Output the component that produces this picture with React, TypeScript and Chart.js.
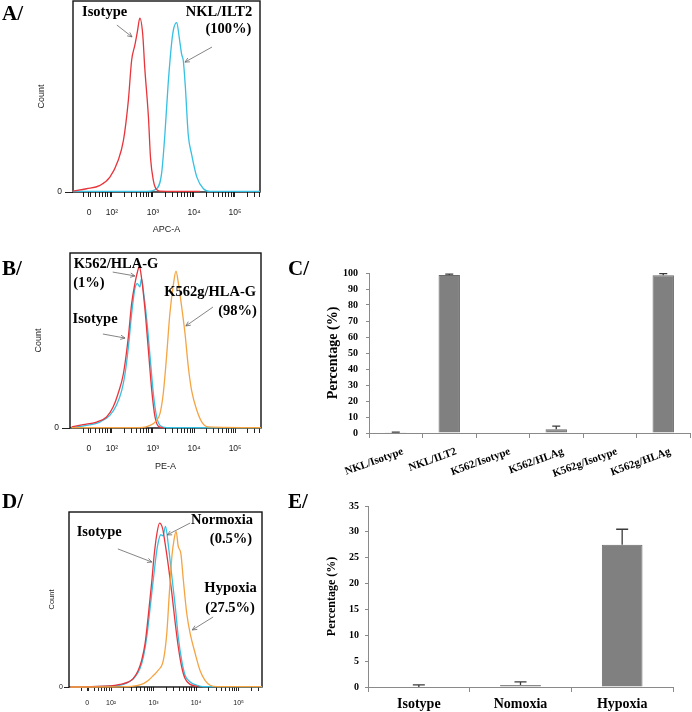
import React, { useEffect, useRef } from 'react';
import { Chart, registerables } from 'chart.js';
Chart.register(...registerables);

const SERIF = '"Times New Roman", "Liberation Serif", serif';
const SANS = 'Arial, "Liberation Sans", sans-serif';
Chart.defaults.font.family = SANS;

// ---------- Histogram axis (decade units, biexponential display) ----------
const histMajorTicks = [1.44, 2, 3, 4, 5];
const histTickLabels = ['0', '10²', '10³', '10⁴', '10⁵'];
const histMinorFactors = [2, 3, 4, 5, 6, 7, 8, 9];
const histDecades = [1, 2, 3, 4, 5];

// ---------- Panel A: NKL ILT2 ----------
const aIsotypeX = [1.04, 1.38, 1.71, 1.95, 2.15, 2.28, 2.40, 2.48, 2.56, 2.62, 2.68, 2.75, 2.80, 2.89, 2.94, 3.01, 3.09, 3.17, 4.15];
const aIsotypeY = [0.5, 1.7, 3.5, 7.8, 16.5, 27, 48, 69, 77, 84, 91, 82.6, 65, 39, 18, 6, 1.2, 0.5, 0.3];
const aIlt2X = [1.04, 2.85, 3.09, 3.21, 3.29, 3.37, 3.46, 3.51, 3.58, 3.64, 3.70, 3.74, 3.79, 3.86, 3.94, 4.07, 4.23, 4.39, 5.61];
const aIlt2Y = [0.3, 0.3, 1.7, 9.6, 30, 56.5, 79, 86, 88.7, 81, 72, 68.7, 55, 30, 20, 7.8, 1.7, 0.3, 0.3];
const aNoteText = ['Isotype', 'NKL/ILT2', '(100%)'];
const aNoteX = [1.82, 4.61, 4.84];
const aNoteY = [94.2, 94.2, 85.3];
const aArrowFrom = [[2.12, 87.4], [4.44, 75.9]];
const aArrowTo = [[2.49, 81.2], [3.78, 68]];

// ---------- Panel B: K562 HLA-G ----------
const bIsotypeX = [1.02, 1.30, 1.63, 1.87, 2.03, 2.15, 2.28, 2.40, 2.48, 2.56, 2.62, 2.67, 2.72, 2.80, 2.89, 2.97, 3.05, 3.13, 3.25];
const bIsotypeY = [0.6, 1.9, 3.4, 6.3, 12, 19.6, 31, 52, 71, 82.5, 89, 92.4, 86, 69, 44, 21.5, 6.3, 1, 0.2];
const bK562X = [1.02, 1.38, 1.71, 1.95, 2.11, 2.24, 2.32, 2.40, 2.48, 2.56, 2.62, 2.68, 2.72, 2.78, 2.85, 2.93, 3.01, 3.09, 3.17, 3.33, 5.63];
const bK562Y = [0.2, 1.5, 3.4, 7.2, 13, 21.5, 31, 46, 65, 79.6, 82.5, 80.6, 85.3, 75.8, 61.5, 40.6, 19.6, 6.3, 1.5, 0.2, 0.2];
const bK562gX = [1.02, 2.68, 2.93, 3.09, 3.17, 3.25, 3.33, 3.41, 3.50, 3.56, 3.62, 3.70, 3.78, 3.86, 3.94, 4.07, 4.19, 4.35, 5.63];
const bK562gY = [0.2, 0.2, 1.5, 4.4, 8.2, 19.6, 40.6, 65, 82.5, 89.7, 82.5, 69, 54, 35, 21.5, 10, 3.4, 0.6, 0.2];
const bNoteText = ['K562/HLA-G', '(1%)', 'Isotype', 'K562g/HLA-G', '(98%)'];
const bNoteX = [2.10, 1.44, 1.59, 4.39, 5.06];
const bNoteY = [93.7, 82.9, 62.3, 77.7, 66.9];
const bArrowFrom = [[2.02, 89.1], [1.78, 53.7], [4.46, 69.1]];
const bArrowTo = [[2.56, 86.9], [2.32, 51.4], [3.80, 58.3]];

// ---------- Panel D: hypoxia ----------
const dIsotypeX = [1.04, 1.98, 2.21, 2.41, 2.52, 2.64, 2.72, 2.80, 2.88, 2.96, 3.01, 3.08, 3.14, 3.21, 3.27, 3.35, 3.43, 3.51, 3.58, 3.66, 3.74, 3.86, 4.02];
const dIsotypeY = [0, 0.6, 1.5, 2.9, 4.8, 9.6, 15.3, 24.9, 42, 61, 74.6, 88, 93.7, 90.8, 82.2, 68.8, 53.5, 36.3, 23, 11.5, 4.8, 1.5, 0.4];
const dNormoxiaX = [1.04, 2.05, 2.29, 2.45, 2.56, 2.68, 2.76, 2.84, 2.93, 3.01, 3.09, 3.17, 3.22, 3.28, 3.35, 3.43, 3.51, 3.58, 3.66, 3.74, 3.86, 4.02, 4.17, 5.55];
const dNormoxiaY = [0, 0.6, 1.5, 3.3, 5.7, 10.5, 17.2, 28.7, 47.8, 65, 80.3, 87, 86.4, 91.8, 80.3, 63, 45.9, 28.7, 15.3, 6.7, 2.9, 1, 0.2, 0.2];
const dHypoxiaX = [1.04, 2.37, 2.60, 2.76, 2.88, 3.00, 3.11, 3.23, 3.31, 3.37, 3.43, 3.48, 3.53, 3.58, 3.64, 3.70, 3.78, 3.86, 3.98, 4.09, 4.21, 4.33, 4.49, 5.55];
const dHypoxiaY = [0, 0.2, 0.8, 1.9, 3.8, 6.7, 9.6, 15.3, 30.6, 53.5, 74.6, 84, 88.9, 80.3, 76.5, 61, 42, 30.6, 19, 9.6, 3.8, 1, 0.2, 0.2];
const dNoteText = ['Isotype', 'Normoxia', '(0.5%)', 'Hypoxia', '(27.5%)'];
const dNoteX = [1.72, 4.61, 4.82, 4.81, 4.80];
const dNoteY = [88.6, 95.4, 84.6, 56.6, 45.1];
const dArrowFrom = [[2.16, 78.9], [3.86, 93.7], [4.40, 40]];
const dArrowTo = [[2.96, 71.4], [3.32, 86.9], [3.91, 32.6]];

// ---------- Panel C: bar chart ----------
const cCategories = ['NKL/Isotype', 'NKL/ILT2', 'K562/Isotype', 'K562/HLAg', 'K562g/Isotype', 'K562g/HLAg'];
const cValues = [0.2, 98.8, 0, 2.3, 0, 98.6];
const cErrors = [0.3, 0.5, 0, 2, 0, 1];
const cYTicks = { min: 0, max: 100, step: 10 };

// ---------- Panel E: bar chart ----------
const eCategories = ['Isotype', 'Nomoxia', 'Hypoxia'];
const eValues = [0, 0.4, 27.5];
const eErrors = [0.4, 0.6, 3];
const eYTicks = { min: 0, max: 35, step: 5 };

const RED = '#e8353b';
const CYAN = '#36c0e2';
const ORANGE = '#f5a443';

const frame = {
  id: 'frame',
  beforeDatasetsDraw(chart: any) {
    const { ctx, chartArea: a } = chart;
    ctx.save();
    ctx.strokeStyle = '#111';
    ctx.lineWidth = 1.4;
    ctx.strokeRect(a.left, a.top, a.right - a.left, a.bottom - a.top);
    ctx.restore();
  },
};

const notes = {
  id: 'notes',
  afterDatasetsDraw(chart: any, _a: any, opts: any) {
    const { ctx, scales } = chart;
    const x = scales.x, y = scales.y;
    ctx.save();
    ctx.strokeStyle = '#666';
    ctx.lineWidth = 0.8;
    (opts.from || []).forEach((f: number[], i: number) => {
      const t = opts.to[i];
      const x1 = x.getPixelForValue(f[0]), y1 = y.getPixelForValue(f[1]);
      const x2 = x.getPixelForValue(t[0]), y2 = y.getPixelForValue(t[1]);
      ctx.beginPath();
      ctx.moveTo(x1, y1);
      ctx.lineTo(x2, y2);
      const ang = Math.atan2(y2 - y1, x2 - x1);
      const h = 5;
      ctx.moveTo(x2, y2);
      ctx.lineTo(x2 - h * Math.cos(ang - 0.45), y2 - h * Math.sin(ang - 0.45));
      ctx.moveTo(x2, y2);
      ctx.lineTo(x2 - h * Math.cos(ang + 0.45), y2 - h * Math.sin(ang + 0.45));
      ctx.stroke();
    });
    ctx.fillStyle = '#000';
    ctx.font = `bold 14.5px ${SERIF}`;
    ctx.textAlign = 'center';
    ctx.textBaseline = 'middle';
    (opts.text || []).forEach((s: string, i: number) => {
      ctx.fillText(s, x.getPixelForValue(opts.x[i]), y.getPixelForValue(opts.y[i]));
    });
    ctx.restore();
  },
};

const errorBars = {
  id: 'errorBars',
  afterDatasetsDraw(chart: any, _a: any, opts: any) {
    const { ctx } = chart;
    const y = chart.scales.y;
    const meta = chart.getDatasetMeta(0);
    const vals = chart.data.datasets[0].data as number[];
    ctx.save();
    ctx.strokeStyle = '#3a3a3a';
    ctx.lineWidth = 1.3;
    meta.data.forEach((bar: any, i: number) => {
      const err = opts.errors[i];
      if (!err) return;
      const y0 = y.getPixelForValue(vals[i]);
      const y1 = y.getPixelForValue(vals[i] + err);
      const c = opts.cap / 2;
      ctx.beginPath();
      ctx.moveTo(bar.x, y0);
      ctx.lineTo(bar.x, y1);
      ctx.moveTo(bar.x - c, y1);
      ctx.lineTo(bar.x + c, y1);
      ctx.stroke();
    });
    ctx.restore();
  },
};

type HistOpts = {
  series: { x: number[]; y: number[]; color: string }[];
  xMin: number; xMax: number;
  padTop: number; padRight: number;
  yWidth: number; xHeight: number;
  tickSize: number; tickPad: number; tickLen: number;
  xTitle?: string; xTitlePad?: number;
  countSize: number; countPad: number;
  yTickLen: number; yTickPad: number;
  note: any;
};

function histConfig(o: HistOpts): any {
  const allTicks: number[] = [...histMajorTicks];
  histDecades.forEach((d) => histMinorFactors.forEach((k) => allTicks.push(d + Math.log10(k))));
  const ticks = allTicks.filter((v) => v >= o.xMin && v <= o.xMax).sort((a, b) => a - b);
  return {
    type: 'line',
    data: {
      datasets: o.series.map((s) => ({
        data: s.x.map((v, i) => ({ x: v, y: s.y[i] })),
        borderColor: s.color,
        borderWidth: 1.3,
        pointRadius: 0,
        cubicInterpolationMode: 'monotone',
        clip: false,
      })),
    },
    options: {
      animation: false,
      responsive: false,
      layout: { padding: { top: o.padTop, right: o.padRight, left: 0, bottom: 0 } },
      plugins: { legend: { display: false }, tooltip: { enabled: false }, notes: o.note },
      scales: {
        x: {
          type: 'linear',
          min: o.xMin,
          max: o.xMax,
          afterBuildTicks: (s: any) => { s.ticks = ticks.map((v) => ({ value: v })); },
          afterFit: (s: any) => { s.height = o.xHeight; s.paddingLeft = 0; s.paddingRight = 0; },
          ticks: {
            autoSkip: false,
            maxRotation: 0,
            padding: o.tickPad,
            color: '#222',
            font: { family: SANS, size: o.tickSize },
            callback: (v: number) => {
              const i = histMajorTicks.findIndex((m) => Math.abs(m - v) < 1e-6);
              return i >= 0 ? histTickLabels[i] : '';
            },
          },
          grid: { display: true, drawOnChartArea: false, drawTicks: true, tickLength: o.tickLen, color: '#222' },
          border: { display: false },
          title: o.xTitle
            ? { display: true, text: o.xTitle, color: '#222', font: { family: SANS, size: 9 }, padding: { top: 0, bottom: o.xTitlePad } }
            : { display: false },
        },
        y: {
          type: 'linear',
          min: 0,
          max: 100,
          afterBuildTicks: (s: any) => { s.ticks = [{ value: 0 }]; },
          afterFit: (s: any) => { s.width = o.yWidth; s.paddingTop = 0; s.paddingBottom = 0; },
          ticks: { padding: o.yTickPad, color: '#222', font: { family: SANS, size: o.tickSize } },
          grid: { display: true, drawOnChartArea: false, drawTicks: true, tickLength: o.yTickLen, color: '#222' },
          border: { display: false },
          title: { display: true, text: 'Count', color: '#222', font: { family: SANS, size: o.countSize }, padding: { top: o.countPad, bottom: 0 } },
        },
      },
    },
    plugins: [frame, notes],
  };
}

type BarOpts = {
  labels: string[]; values: number[]; errors: number[];
  yt: { min: number; max: number; step: number };
  padTop: number; padRight: number; yWidth: number; xHeight: number;
  xFont: number; rotation: number; xPad: number; labelOffset: number;
  titleSize: number; titlePad: number; yPad: number; cap: number;
};

function barConfig(o: BarOpts): any {
  return {
    type: 'bar',
    data: {
      labels: o.labels,
      datasets: [{
        data: o.values,
        backgroundColor: '#808080',
        borderColor: '#6a6a6a',
        borderWidth: 1,
        categoryPercentage: 1,
        barPercentage: 0.4,
      }],
    },
    options: {
      animation: false,
      responsive: false,
      layout: { padding: { top: o.padTop, right: o.padRight, left: 0, bottom: 0 } },
      plugins: { legend: { display: false }, tooltip: { enabled: false }, errorBars: { errors: o.errors, cap: o.cap } },
      scales: {
        x: {
          afterFit: (s: any) => { s.height = o.xHeight; },
          grid: { display: true, drawOnChartArea: false, drawTicks: true, tickLength: 5, color: '#8a8a8a', offset: true },
          border: { display: true, color: '#8a8a8a', width: 1 },
          ticks: {
            autoSkip: false,
            minRotation: o.rotation,
            maxRotation: o.rotation,
            padding: o.xPad,
            labelOffset: o.labelOffset,
            color: '#000',
            font: { family: SERIF, size: o.xFont, weight: 'bold' },
          },
        },
        y: {
          min: o.yt.min,
          max: o.yt.max,
          afterFit: (s: any) => { s.width = o.yWidth; },
          ticks: { stepSize: o.yt.step, padding: o.yPad, color: '#000', font: { family: SERIF, size: 10, weight: 'bold' } },
          grid: { display: true, drawOnChartArea: false, drawTicks: true, tickLength: 3, color: '#8a8a8a' },
          border: { display: true, color: '#8a8a8a', width: 1 },
          title: { display: true, text: 'Percentage (%)', color: '#000', font: { family: SERIF, size: o.titleSize, weight: 'bold' }, padding: { top: o.titlePad, bottom: 0 } },
        },
      },
    },
    plugins: [errorBars],
  };
}

function ChartBox(props: { left: number; top: number; width: number; height: number; make: () => any }) {
  const ref = useRef<HTMLCanvasElement>(null);
  useEffect(() => {
    const chart = new Chart(ref.current as HTMLCanvasElement, props.make());
    return () => chart.destroy();
  }, []);
  return (
    <canvas
      ref={ref}
      width={props.width}
      height={props.height}
      style={{ position: 'absolute', left: props.left, top: props.top, width: props.width, height: props.height }}
    />
  );
}

const panelLabelStyle = (left: number, top: number): React.CSSProperties => ({
  position: 'absolute', left, top, fontFamily: SERIF, fontWeight: 'bold', fontSize: 21, lineHeight: '21px', color: '#000',
});

export default function App() {
  return (
    <div style={{ position: 'absolute', left: 0, top: 0, width: 692, height: 712, background: '#fff', overflow: 'hidden' }}>
      <ChartBox left={0} top={0} width={270} height={240} make={() => histConfig({
        series: [
          { x: aIsotypeX, y: aIsotypeY, color: RED },
          { x: aIlt2X, y: aIlt2Y, color: CYAN },
        ],
        xMin: 1.05, xMax: 5.61, padTop: 1, padRight: 10, yWidth: 73, xHeight: 48,
        tickSize: 8.5, tickPad: 11, tickLen: 5, xTitle: 'APC-A', xTitlePad: 4.6,
        countSize: 9, countPad: 36.6, yTickLen: 8, yTickPad: 3,
        note: { text: aNoteText, x: aNoteX, y: aNoteY, from: aArrowFrom, to: aArrowTo },
      })} />
      <ChartBox left={0} top={240} width={270} height={240} make={() => histConfig({
        series: [
          { x: bK562gX, y: bK562gY, color: ORANGE },
          { x: bIsotypeX, y: bIsotypeY, color: RED },
          { x: bK562X, y: bK562Y, color: CYAN },
        ],
        xMin: 0.98, xMax: 5.63, padTop: 13, padRight: 9, yWidth: 70, xHeight: 52,
        tickSize: 8.5, tickPad: 11, tickLen: 5, xTitle: 'PE-A', xTitlePad: 7.6,
        countSize: 9, countPad: 33.6, yTickLen: 8, yTickPad: 3,
        note: { text: bNoteText, x: bNoteX, y: bNoteY, from: bArrowFrom, to: bArrowTo },
      })} />
      <ChartBox left={0} top={480} width={270} height={232} make={() => histConfig({
        series: [
          { x: dHypoxiaX, y: dHypoxiaY, color: ORANGE },
          { x: dIsotypeX, y: dIsotypeY, color: RED },
          { x: dNormoxiaX, y: dNormoxiaY, color: CYAN },
        ],
        xMin: 1.01, xMax: 5.55, padTop: 32, padRight: 8, yWidth: 69, xHeight: 25,
        tickSize: 7, tickPad: 7.8, tickLen: 4,
        countSize: 7.5, countPad: 47.8, yTickLen: 5, yTickPad: 1,
        note: { text: dNoteText, x: dNoteX, y: dNoteY, from: dArrowFrom, to: dArrowTo },
      })} />
      <ChartBox left={300} top={250} width={392} height={230} make={() => barConfig({
        labels: cCategories, values: cValues, errors: cErrors, yt: cYTicks,
        padTop: 23, padRight: 2, yWidth: 69, xHeight: 47,
        xFont: 11, rotation: 20, xPad: 7, labelOffset: 7,
        titleSize: 14, titlePad: 24.6, yPad: 8, cap: 8,
      })} />
      <ChartBox left={300} top={480} width={392} height={232} make={() => barConfig({
        labels: eCategories, values: eValues, errors: eErrors, yt: eYTicks,
        padTop: 26, padRight: 19, yWidth: 68, xHeight: 25,
        xFont: 14, rotation: 0, xPad: 3.6, labelOffset: 0,
        titleSize: 12, titlePad: 24.8, yPad: 6, cap: 12,
      })} />
      <div style={panelLabelStyle(2, 3)}>A/</div>
      <div style={panelLabelStyle(2, 258)}>B/</div>
      <div style={panelLabelStyle(288, 258)}>C/</div>
      <div style={panelLabelStyle(2, 491)}>D/</div>
      <div style={panelLabelStyle(288, 491)}>E/</div>
    </div>
  );
}
